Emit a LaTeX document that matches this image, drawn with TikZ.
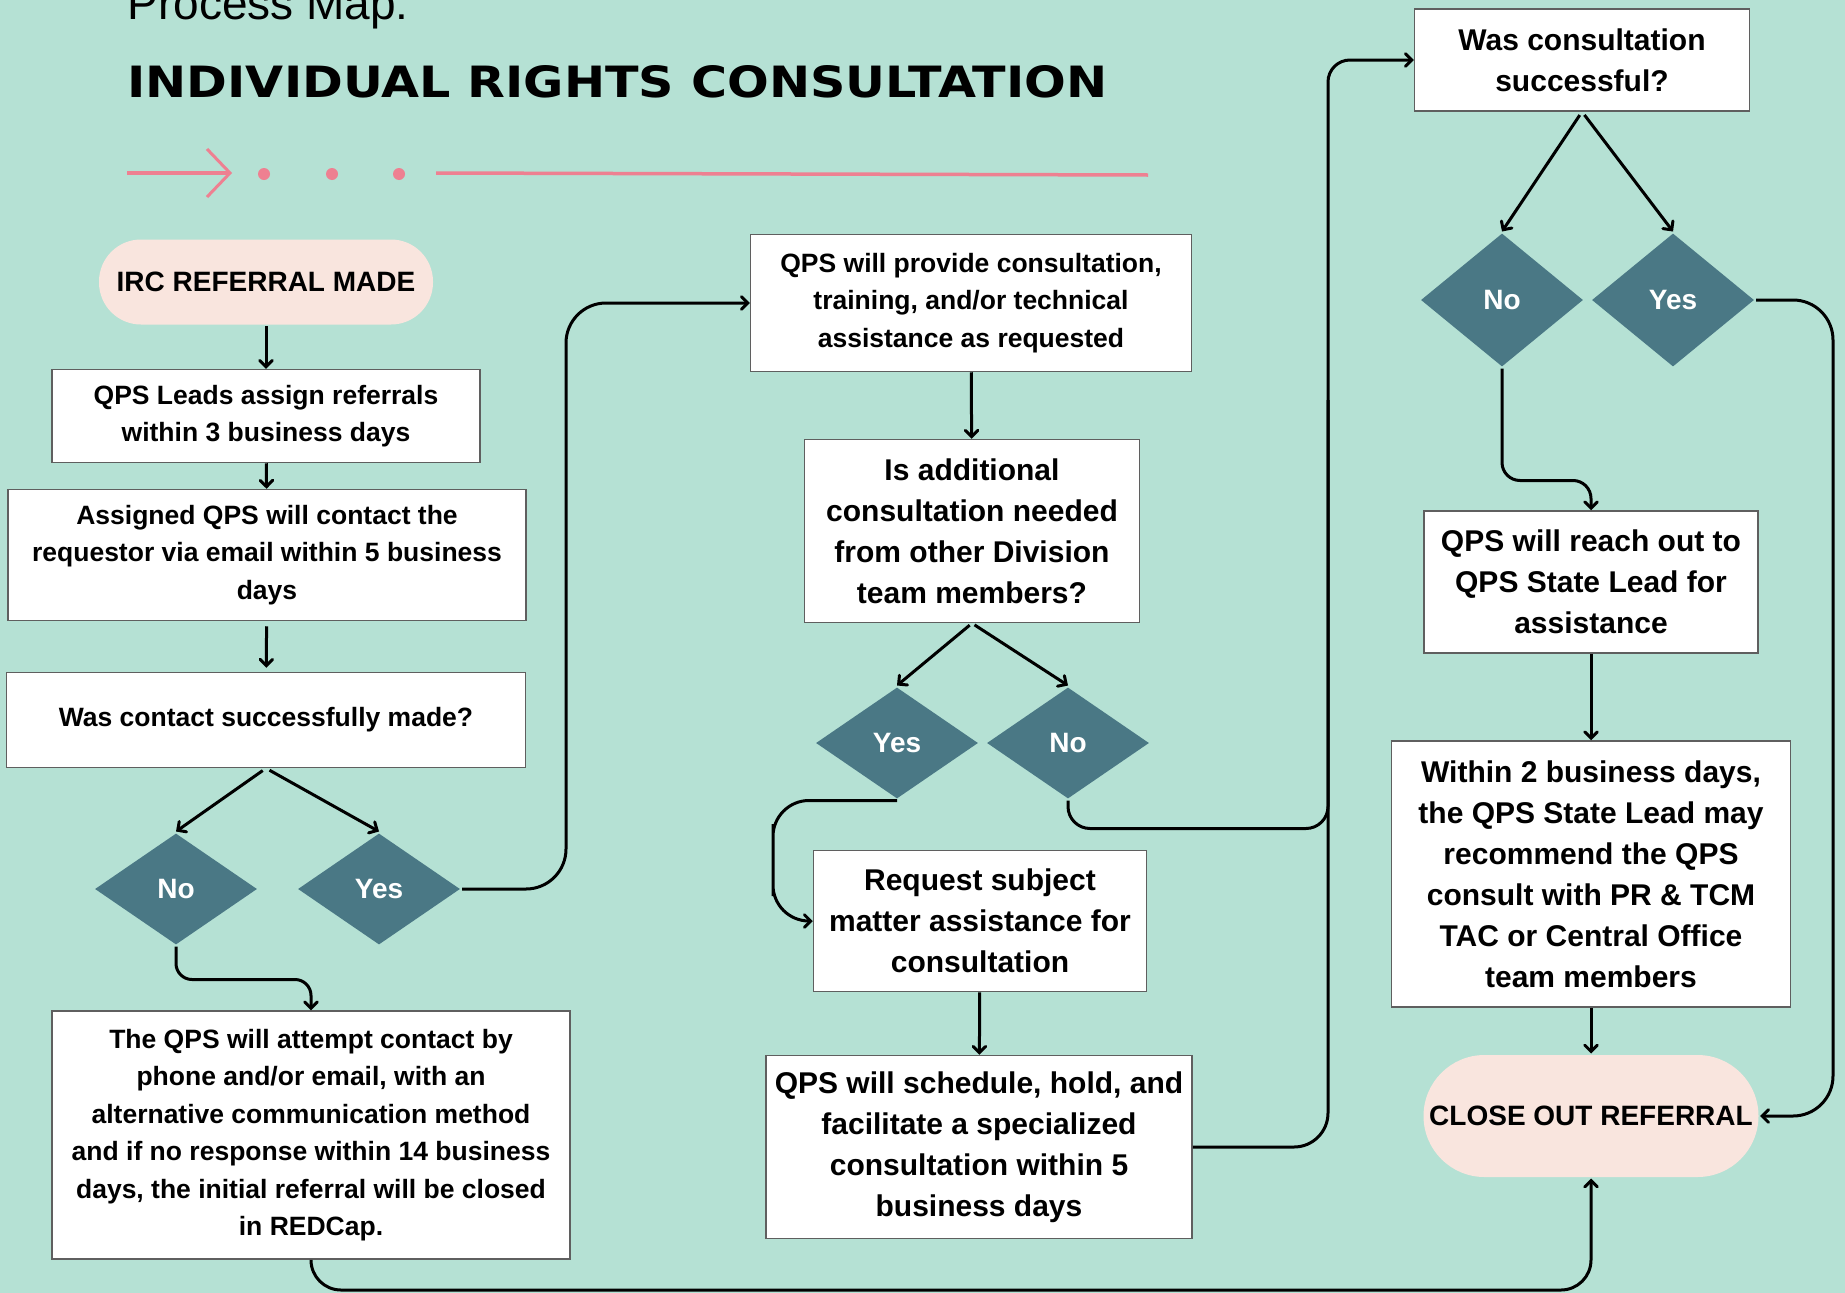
\documentclass[tikz,border=0pt]{standalone}
\usepackage{fontspec}
\setmainfont{Liberation Sans}
\newfontfamily\titlefont{DejaVu Sans}
\usepackage{xcolor}
\usepackage{tikz}
\usetikzlibrary{arrows,shapes.geometric}
\definecolor{mint}{RGB}{181,225,212}
\definecolor{slate}{RGB}{74,120,133}
\definecolor{blush}{RGB}{249,229,222}
\definecolor{rose}{RGB}{238,128,145}
\definecolor{edgegray}{RGB}{95,95,95}

\begin{document}
\begin{tikzpicture}[x=1pt,y=-1pt,>=angle 90,line width=3pt,
    main node/.style={rectangle,draw=edgegray,line width=1.5pt,fill=white,align=center,inner sep=0pt,font=\fontsize{26.5}{37.5}\selectfont\bfseries},
    big node/.style={main node,font=\fontsize{30}{41}\selectfont\bfseries},
    end node/.style={rectangle,fill=blush,inner sep=0pt,font=\fontsize{28}{34}\selectfont\bfseries},
    choice node/.style={diamond,fill=slate,inner sep=0pt,minimum width=163pt,minimum height=112pt,text=white,font=\fontsize{28}{34}\selectfont\bfseries}]
    \useasboundingbox (0,0) rectangle (1845,1293);
    \fill[mint] (0,0) rectangle (1845,1293);

    \node[anchor=base west,inner sep=0pt,font=\fontsize{46}{50}\selectfont] (title0) at (126,19) {Process Map:};
    \node[anchor=base west,inner sep=0pt] (title1) at (126,97) {\resizebox{980pt}{32pt}{\titlefont\bfseries INDIVIDUAL RIGHTS CONSULTATION}};
    \draw[rose,line width=3.5pt] (127,173) -- (230,173);
    \draw[rose,line width=3pt] (207,149) -- (230,173) -- (207,197);
    \fill[rose] (264,174) circle (6pt) (332,174) circle (6pt) (399,174) circle (6pt);
    \draw[rose,line width=3.5pt] (436,173) -- (1148,175);

    \node[end node,rounded corners=42pt,minimum width=334pt,minimum height=85pt] (0) at (266,282) {IRC REFERRAL MADE};
    \node[main node,minimum width=428pt,minimum height=93pt] (1) at (266,416) {QPS Leads assign referrals\\within 3 business days};
    \node[main node,minimum width=518pt,minimum height=131pt] (2) at (267,555) {Assigned QPS will contact the\\requestor via email within 5 business\\days};
    \node[main node,minimum width=519pt,minimum height=95pt] (3) at (266,720) {Was contact successfully made?};
    \node[choice node] (4) at (176,889) {No};
    \node[choice node] (5) at (379,889) {Yes};
    \node[main node,minimum width=518pt,minimum height=248pt] (6) at (311,1135) {The QPS will attempt contact by\\phone and/or email, with an\\alternative communication method\\and if no response within 14 business\\days, the initial referral will be closed\\in REDCap.};

    \node[main node,minimum width=441pt,minimum height=137pt] (7) at (971,303) {QPS will provide consultation,\\training, and/or technical\\assistance as requested};
    \node[big node,minimum width=335pt,minimum height=183pt] (8) at (972,531) {Is additional\\consultation needed\\from other Division\\team members?};
    \node[choice node] (9) at (897,743) {Yes};
    \node[choice node] (10) at (1068,743) {No};
    \node[big node,minimum width=333pt,minimum height=141pt] (11) at (980,921) {Request subject\\matter assistance for\\consultation};
    \node[big node,minimum width=426pt,minimum height=183pt] (12) at (979,1147) {QPS will schedule, hold, and\\facilitate a specialized\\consultation within 5\\business days};

    \node[big node,minimum width=335pt,minimum height=102pt] (13) at (1582,60) {Was consultation\\successful?};
    \node[choice node,minimum height=134pt] (14) at (1502,300) {No};
    \node[choice node,minimum height=134pt] (15) at (1673,300) {Yes};
    \node[big node,minimum width=334pt,minimum height=142pt] (16) at (1591,582) {QPS will reach out to\\QPS State Lead for\\assistance};
    \node[big node,minimum width=399pt,minimum height=266pt] (17) at (1591,874) {Within 2 business days,\\the QPS State Lead may\\recommend the QPS\\consult with PR \& TCM\\TAC or Central Office\\team members};
    \node[end node,rounded corners=61pt,minimum width=335pt,minimum height=122pt] (18) at (1591,1116) {CLOSE OUT REFERRAL};

    \coordinate (a) at (566,600);
    \coordinate (b) at (773,860);
    \coordinate (c) at (1328,400);
    \coordinate (d) at (1833,700);
    \coordinate (e) at (900,1290);

    \path[->]
    (0) edge (1)
    (1) edge (2)
    (2) edge[shorten <=5pt,shorten >=4pt] (3)
    (3.south) edge[shorten <=4pt] (4.north)
              edge[shorten <=4pt] (5.north)
    (7) edge (8)
    (8.south) edge[shorten <=3pt] (9.north)
              edge[shorten <=3pt] (10.north)
    (11) edge (12)
    (13.south) edge[shorten <=4pt] (14.north)
               edge[shorten <=4pt] (15.north)
    (16) edge (17)
    (17) edge (18);

    \draw[->,rounded corners=16pt] (4.south) -- ++(0,33) -| (6.north);
    \draw[->,rounded corners=40pt] (5.east) -| (a) |- (7.west);
    \draw[->,rounded corners=36pt] (9.south) -| (b) |- (11.west);
    \draw[->,rounded corners=22pt] (10.south) -- ++(0,28) -| (c) |- (13.west);
    \draw[rounded corners=34pt] (12.east) -| (c);
    \draw[->,rounded corners=18pt] (14.south) -- ++(0,112) -| (16.north);
    \draw[->,rounded corners=40pt] (15.east) -| (d) |- (18.east);
    \draw[->,rounded corners=30pt] (6.south) |- (e) -| (18.south);
\end{tikzpicture}
\end{document}
